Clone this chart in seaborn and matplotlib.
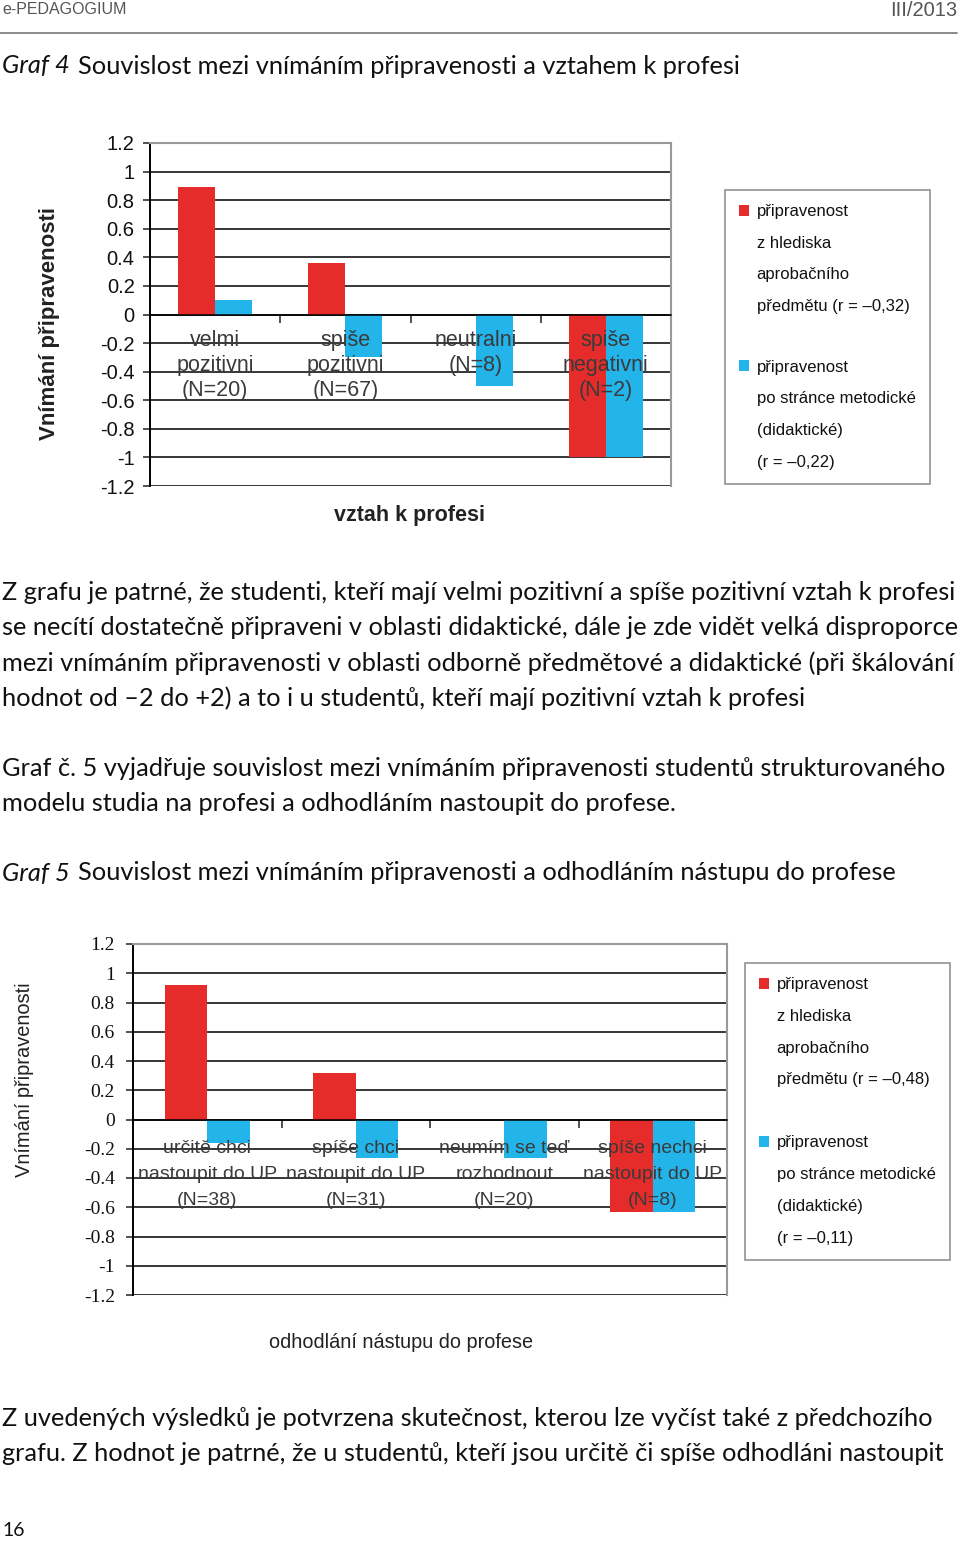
import numpy as np
import pandas as pd
import matplotlib
matplotlib.use("Agg")
import matplotlib.pyplot as plt
import seaborn as sns
from matplotlib.patches import Patch

# ---------------- data ----------------
cats1 = ["velmi\npozitivni\n(N=20)", "spiše\npozitivni\n(N=67)", "neutralni\n(N=8)", "spiše\nnegativni\n(N=2)"]
red1 = [0.89, 0.36, 0.0, -1.0]
blue1 = [0.10, -0.30, -0.50, -1.0]

cats2 = ["určitě chci\nnastoupit do UP\n(N=38)", "spíše chci\nnastoupit do UP\n(N=31)",
         "neumím se teď\nrozhodnout\n(N=20)", "spíše nechci\nnastoupit do UP\n(N=8)"]
red2 = [0.92, 0.32, 0.0, -0.63]
blue2 = [-0.16, -0.26, -0.26, -0.63]

series_names = ["aprobační", "didaktická"]
yticks = [1.2, 1.0, 0.8, 0.6, 0.4, 0.2, 0.0, -0.2, -0.4, -0.6, -0.8, -1.0, -1.2]
ytick_labels = ["1.2", "1", "0.8", "0.6", "0.4", "0.2", "0", "-0.2", "-0.4", "-0.6", "-0.8", "-1", "-1.2"]

legend1 = ["připravenost", "z hlediska", "aprobačního", "předmětu (r = –0,32)", "",
           "připravenost", "po stránce metodické", "(didaktické)", "(r = –0,22)"]
legend2 = ["připravenost", "z hlediska", "aprobačního", "předmětu (r = –0,48)", "",
           "připravenost", "po stránce metodické", "(didaktické)", "(r = –0,11)"]

RED = "#E62B2B"
BLUE = "#23B4EA"

W, H = 960, 1544
sns.set_theme(style="white")
plt.rcParams["font.family"] = ["Lato", "DejaVu Sans"]

fig = plt.figure(figsize=(W / 100, H / 100), dpi=100)
fig.patch.set_facecolor("white")


def fx(x):
    return x / W


def fy(y):
    return 1 - y / H


ARIAL = ["Liberation Sans", "DejaVu Sans"]
SERIF = ["Liberation Serif", "DejaVu Serif"]


def make_chart(rect, cats, red, blue, tick_font, tick_size, tick_pad,
               lab_font, lab_size, lab_y0, lab_dy, lab_color):
    ax = fig.add_axes(rect)
    df = pd.DataFrame({
        "kat": cats * 2,
        "val": red + blue,
        "serie": [series_names[0]] * len(cats) + [series_names[1]] * len(cats),
    })
    sns.barplot(data=df, x="kat", y="val", hue="serie", palette=[RED, BLUE],
                width=0.57, saturation=1, ax=ax, legend=False, order=cats)
    for p in ax.patches:
        p.set_edgecolor("none")
    ax.set_ylim(-1.2, 1.2)
    ax.set_xlim(-0.5, len(cats) - 0.5)
    ax.set_yticks(yticks)
    ax.set_yticklabels(ytick_labels, fontfamily=tick_font, fontsize=tick_size, color="#111111")
    ax.yaxis.grid(True, color="black", lw=1.1)
    ax.set_axisbelow(True)
    ax.set_xlabel("")
    ax.set_ylabel("")
    ax.spines["bottom"].set_position(("data", 0))
    ax.spines["bottom"].set_color("black")
    ax.spines["bottom"].set_linewidth(1.1)
    ax.set_xticks([0.5 + i for i in range(len(cats) - 1)])
    ax.set_xticklabels([])
    ax.tick_params(axis="x", bottom=True, length=6, width=1.2, color="#333333", direction="out")
    ax.tick_params(axis="y", left=True, length=5, width=1.2, color="#333333", direction="out", pad=tick_pad)
    ax.spines["left"].set_color("black")
    ax.spines["left"].set_linewidth(1.4)
    for s in ["top", "right"]:
        ax.spines[s].set_color("#999999")
        ax.spines[s].set_linewidth(1.5)
    for i, c in enumerate(cats):
        for k, line in enumerate(c.split("\n")):
            ax.text(i, lab_y0 - k * lab_dy, line, ha="center", va="center", fontfamily=lab_font,
                    fontsize=lab_size, color=lab_color, zorder=5)
    return ax


ax1 = make_chart([fx(150), fy(486), (671 - 150) / W, (486 - 143) / H], cats1, red1, blue1,
                 ARIAL, 14.5, 6, ARIAL, 15.5, -0.185, 0.175, "#3a3a3a")
ax2 = make_chart([fx(133), fy(1295), (727 - 133) / W, (1295 - 944) / H], cats2, red2, blue2,
                 SERIF, 14, 8, ARIAL, 14, -0.195, 0.178, "#3a3a3a")

# axis labels
fig.text(fx(50), fy(323), "Vnímání připravenosti", rotation=90, ha="center", va="center",
         fontfamily=ARIAL, fontweight="bold", fontsize=16, color="#222222")
fig.text(fx(410), fy(515), "vztah k profesi", ha="center", va="center",
         fontfamily=ARIAL, fontweight="bold", fontsize=15.5, color="#222222")
fig.text(fx(25), fy(1080), "Vnímání připravenosti", rotation=90, ha="center", va="center",
         fontfamily=ARIAL, fontsize=14.4, color="#222222")
fig.text(fx(401), fy(1342), "odhodlání nástupu do profese", ha="center", va="center",
         fontfamily=ARIAL, fontsize=14.3, color="#222222")


def make_legend(lines, anchor_xy, size, blank_size):
    handles = []
    for i, _ in enumerate(lines):
        if i == 0:
            handles.append(Patch(facecolor=RED, edgecolor="none"))
        elif i == 5:
            handles.append(Patch(facecolor=BLUE, edgecolor="none"))
        else:
            handles.append(Patch(facecolor="none", edgecolor="none"))
    leg = fig.legend(handles, lines, loc="upper left", bbox_to_anchor=anchor_xy,
                     prop={"family": ARIAL, "size": size}, frameon=True, fancybox=False,
                     edgecolor="#777777", handlelength=0.6, handleheight=0.6, handletextpad=0.45,
                     labelspacing=1.0, borderpad=0.85, borderaxespad=0)
    leg.get_frame().set_linewidth(1.2)
    for t in leg.get_texts():
        t.set_color("#111111")
    leg.get_texts()[4].set_fontsize(blank_size)
    return leg


make_legend(legend1, (fx(725), fy(190)), 12, 2)
make_legend(legend2, (fx(745), fy(963)), 12, 12)

# page texts
BODY = 18.3
fig.text(fx(2), fy(10), "e-PEDAGOGIUM", ha="left", va="center", fontfamily=ARIAL, fontsize=11.5, color="#555555")
fig.text(fx(957), fy(10), "III/2013", ha="right", va="center", fontfamily=ARIAL, fontsize=14.5, color="#555555")
fig.add_artist(plt.Line2D([0, fx(957)], [fy(33), fy(33)], color="#777777", lw=1.2))

fig.text(fx(2), fy(66), "Graf 4", ha="left", va="center", fontstyle="italic", fontsize=BODY, color="#111111")
fig.text(fx(78), fy(66), "Souvislost mezi vnímáním připravenosti a vztahem k profesi", ha="left",
         va="center", fontsize=BODY, color="#111111")

para1 = ["Z grafu je patrné, že studenti, kteří mají velmi pozitivní a spíše pozitivní vztah k profesi",
         "se necítí dostatečně připraveni v oblasti didaktické, dále je zde vidět velká disproporce",
         "mezi vnímáním připravenosti v oblasti odborně předmětové a didaktické (při škálování",
         "hodnot od –2 do +2) a to i u studentů, kteří mají pozitivní vztah k profesi"]
for i, line in enumerate(para1):
    fig.text(fx(2), fy(592 + 35.4 * i), line, ha="left", va="center", fontsize=BODY, color="#111111")

para2 = ["Graf č. 5 vyjadřuje souvislost mezi vnímáním připravenosti studentů strukturovaného",
         "modelu studia na profesi a odhodláním nastoupit do profese."]
for i, line in enumerate(para2):
    fig.text(fx(2), fy(768 + 35.4 * i), line, ha="left", va="center", fontsize=BODY, color="#111111")

fig.text(fx(2), fy(873), "Graf 5", ha="left", va="center", fontstyle="italic", fontsize=BODY, color="#111111")
fig.text(fx(78), fy(873), "Souvislost mezi vnímáním připravenosti a odhodláním nástupu do profese",
         ha="left", va="center", fontsize=BODY, color="#111111")

para3 = ["Z uvedených výsledků je potvrzena skutečnost, kterou lze vyčíst také z předchozího",
         "grafu. Z hodnot je patrné, že u studentů, kteří jsou určitě či spíše odhodláni nastoupit"]
for i, line in enumerate(para3):
    fig.text(fx(2), fy(1418 + 35.4 * i), line, ha="left", va="center", fontsize=BODY, color="#111111")

fig.text(fx(2), fy(1530), "16", ha="left", va="center", fontsize=14, color="#111111")

fig.savefig("out.png", dpi=100, facecolor="white")
